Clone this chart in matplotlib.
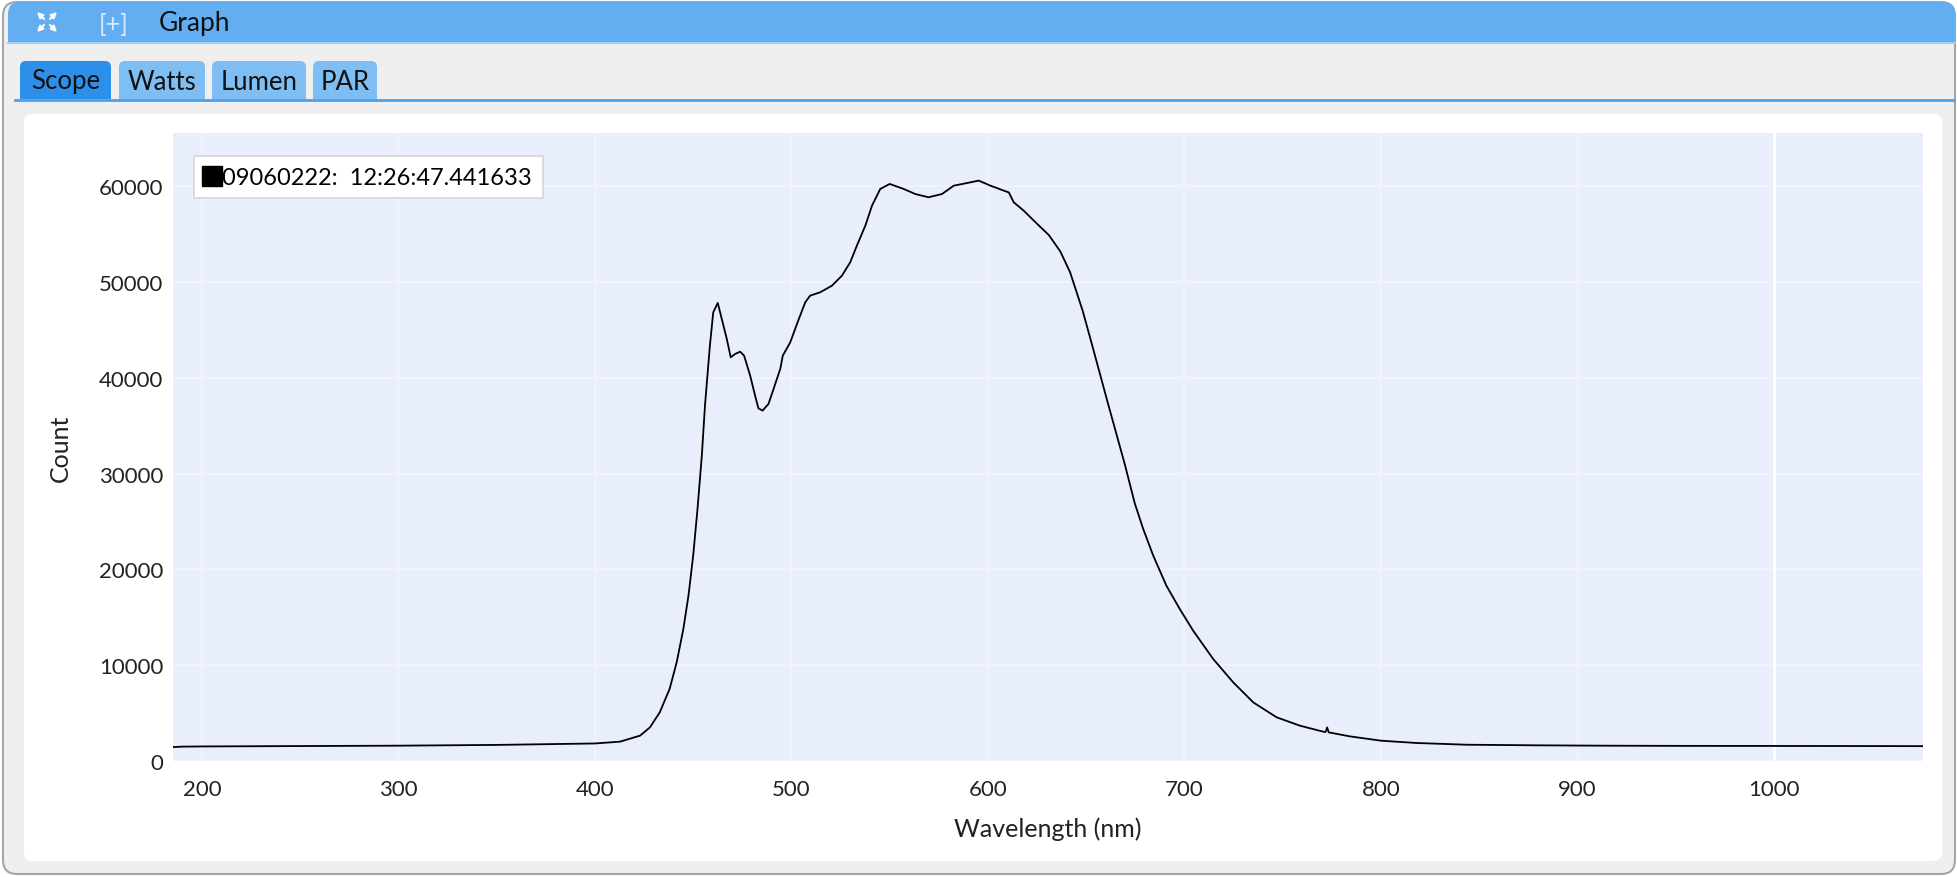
import matplotlib
matplotlib.use('Agg')
import matplotlib.pyplot as plt
from matplotlib.patches import FancyBboxPatch, Rectangle
from matplotlib.lines import Line2D

plt.rcParams['font.family'] = ['Lato', 'DejaVu Sans']

# spectrum (wavelength in nm, raw counts)
wavelength = [185.3, 190, 200, 250, 300, 350, 400, 412.8, 423, 428, 433, 438, 441.6,
              445, 447.6, 450, 452.2, 454.4, 456, 458.5, 460.2, 462.5, 465.4, 467.1,
              469.1, 471.3, 473.9, 475.9, 479, 481.5, 483.2, 485.3, 488.3, 490.9,
              494.3, 495.6, 499.4, 502.8, 507, 509.5, 514.6, 520.6, 525.7, 529.9,
              533.3, 537.6, 541, 545.2, 550, 557.1, 563, 569.8, 576.6, 582.6, 589.4,
              595.3, 601.3, 608.1, 610.6, 613.1, 618.2, 624.2, 631, 636.8, 641.8,
              648.2, 652.5, 657, 660.7, 667.3, 669.6, 674.7, 679, 684.1, 690.8,
              697.6, 704.4, 714.6, 724.8, 735, 746.9, 758.7, 770.6, 771.8, 772.6,
              773.4, 784.2, 800, 818.1, 843.5, 877.5, 911.4, 950, 1000, 1050, 1075.8]
count = [1450, 1500, 1520, 1560, 1600, 1680, 1830, 2020, 2650, 3510, 5080, 7520, 10300,
         13780, 17260, 21440, 26310, 31880, 37100, 43360, 46840, 47820, 45450, 44060,
         42140, 42490, 42730, 42320, 40230, 38140, 36820, 36580, 37270, 38840,
         40920, 42320, 43710, 45620, 47880, 48580, 48930, 49620, 50670, 52060,
         53800, 55890, 57980, 59720, 60240, 59720, 59190, 58850, 59190, 60060, 60340,
         60590, 60060, 59540, 59360, 58330, 57450, 56240, 54900, 53200, 51020,
         47000, 43800, 40400, 37600, 32700, 31000, 26900, 24220, 21440, 18300,
         15870, 13610, 10650, 8210, 6120, 4560, 3690, 3060, 3030, 3510,
         2990, 2570, 2120, 1880, 1700, 1640, 1600, 1580, 1570, 1560, 1550]

series_label = '09060222:  12:26:47.441633'
tabs = ['Scope', 'Watts', 'Lumen', 'PAR']
y_ticks = [0, 10000, 20000, 30000, 40000, 50000, 60000]
x_ticks = [200, 300, 400, 500, 600, 700, 800, 900, 1000]

W, H = 1958, 878
fig = plt.figure(figsize=(W / 100, H / 100), dpi=100)
fig.patch.set_facecolor('white')

# window chrome drawn in pixel coordinates
deco = fig.add_axes([0, 0, 1, 1])
deco.set_xlim(0, W)
deco.set_ylim(H, 0)
deco.axis('off')

deco.add_patch(FancyBboxPatch((3, 3), W - 6, H - 6, boxstyle='round,pad=0,rounding_size=14',
                              facecolor='#efefef', edgecolor='#a5a5a5', lw=1.5))
# title bar
deco.add_patch(FancyBboxPatch((8, 3), W - 11, 41, boxstyle='round,pad=0,rounding_size=12',
                              facecolor='#62aef0', edgecolor='none'))
deco.add_patch(Rectangle((8, 25), W - 11, 19, facecolor='#62aef0', edgecolor='none'))
deco.plot([8, W - 3], [44, 44], color='#a3d0f6', lw=1.5)

# expand icon: four arrows pointing to the corners
cx, cy = 47, 23
for dx, dy in [(-1, -1), (1, -1), (-1, 1), (1, 1)]:
    deco.annotate('', xy=(cx + 10 * dx, cy + 10 * dy), xytext=(cx + 3 * dx, cy + 3 * dy),
                  arrowprops=dict(arrowstyle='-|>', color='white', lw=1.5,
                                  mutation_scale=8, shrinkA=0, shrinkB=0))
deco.text(114, 24, '[+]', color='#d8eafc', fontsize=18, ha='center', va='center')
deco.text(159, 24, 'Graph', color='#111111', fontsize=19, ha='left', va='center')

# tabs
tab_x = [(20, 111), (119, 205), (212, 306), (313, 377)]
for i, (name, (xa, xb)) in enumerate(zip(tabs, tab_x)):
    col = '#2c90ea' if i == 0 else '#7fbef3'
    deco.add_patch(FancyBboxPatch((xa, 62), xb - xa, 38, boxstyle='round,pad=0,rounding_size=6',
                                  facecolor=col, edgecolor='none'))
    deco.add_patch(Rectangle((xa, 80), xb - xa, 20, facecolor=col, edgecolor='none'))
    deco.text((xa + xb) / 2, 82, name, color='#111111', fontsize=18.5, ha='center', va='center')
deco.plot([15, 1954], [100.5, 100.5], color='#4aa0ea', lw=2)

# white panel
deco.add_patch(FancyBboxPatch((24, 115), 1918, 747, boxstyle='round,pad=0,rounding_size=8',
                              facecolor='white', edgecolor='none'))

# plot area
left, right, top, bottom = 173, 1923, 134, 762
ax = fig.add_axes([left / W, 1 - bottom / H, (right - left) / W, (bottom - top) / H])
ax.set_facecolor('#e8eefb')
ax.plot(wavelength, count, color='black', lw=1.3)

ax.set_xlim(185.3, 1075.8)
ax.set_ylim(0, 65560)
ax.set_xticks(x_ticks)
ax.set_yticks(y_ticks)
ax.set_yticklabels([str(v) for v in y_ticks])
ax.tick_params(length=0, labelsize=16, colors='#222222')
ax.tick_params(axis='x', pad=13)
ax.tick_params(axis='y', pad=7)
ax.grid(True, color='#f2f5fe', lw=1.2)
ax.axvline(1000, color='white', lw=2, zorder=0.6)
ax.set_axisbelow(True)
for s in ax.spines.values():
    s.set_visible(False)

ax.set_xlabel('Wavelength (nm)', fontsize=18, color='#222222')
ax.set_ylabel('Count', fontsize=18, color='#222222')
ax.xaxis.set_label_coords(0.5, -0.088)
ax.yaxis.set_label_coords(-0.058, 0.5)

handle = Line2D([], [], marker='s', color='black', linestyle='None', markersize=14)
leg = ax.legend([handle], [series_label], loc='upper left', bbox_to_anchor=(0.012, 0.963),
                borderaxespad=0, fancybox=False, framealpha=1, edgecolor='#d5d5d5',
                fontsize=17, handlelength=0.6, handletextpad=0.15, borderpad=0.45)
leg.get_frame().set_linewidth(1.2)

fig.savefig('out.png', dpi=100)
